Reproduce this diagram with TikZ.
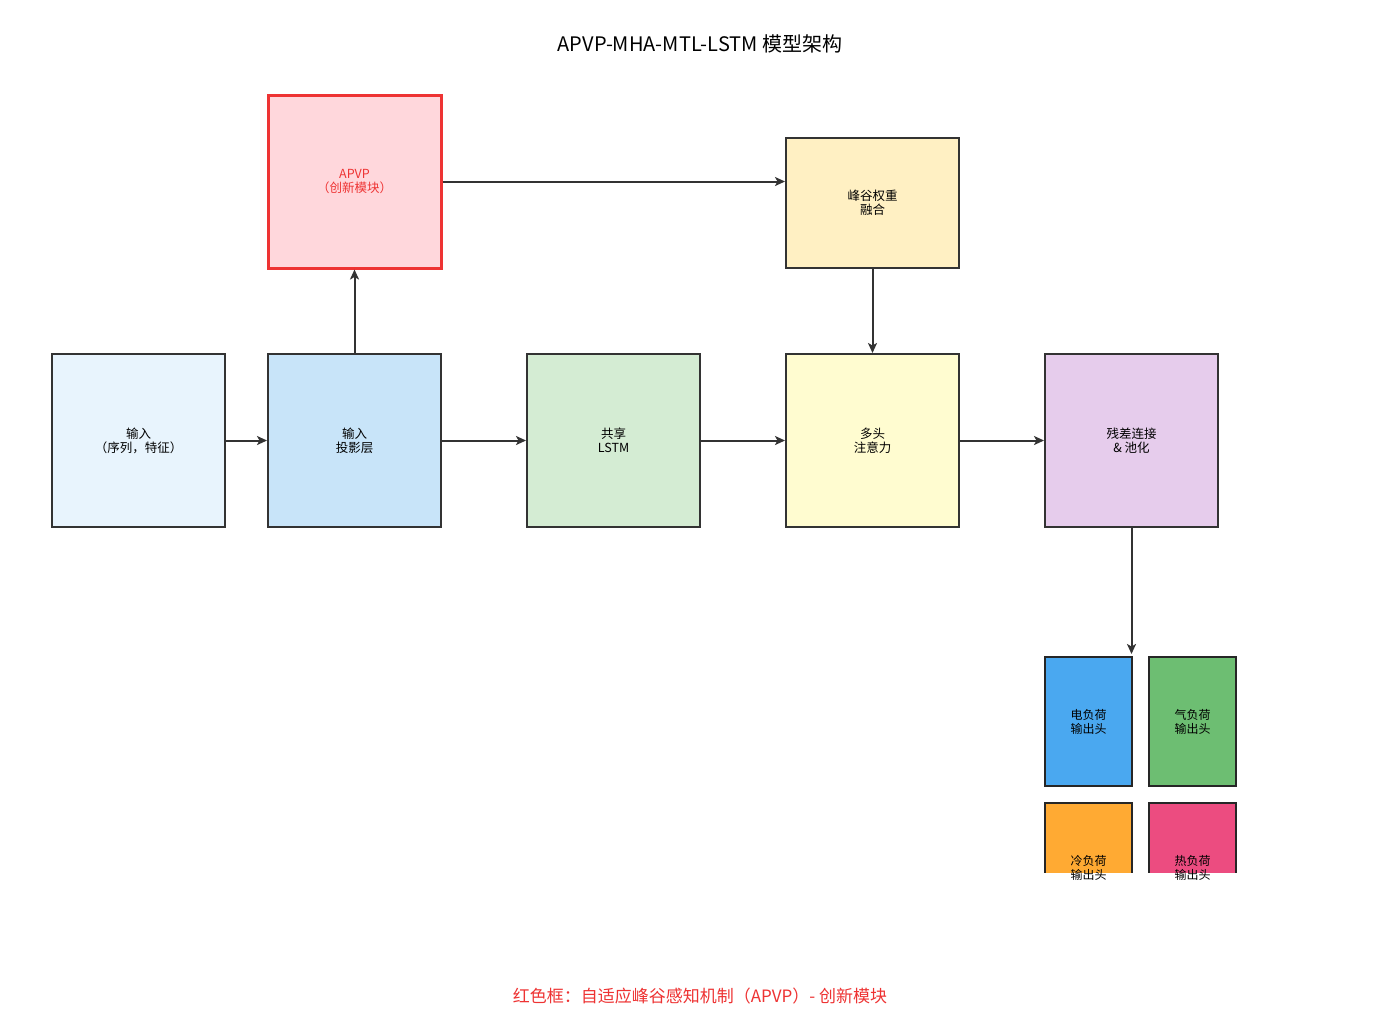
\documentclass[tikz,border=0pt]{standalone}
\usepackage{fontspec}
\setmainfont{Noto Sans CJK SC}
\usetikzlibrary{arrows.meta}
\definecolor{cin}{HTML}{E8F4FD}
\definecolor{cproj}{HTML}{C8E4F9}
\definecolor{clstm}{HTML}{D4ECD3}
\definecolor{cmha}{HTML}{FFFCD0}
\definecolor{cres}{HTML}{E6CCEC}
\definecolor{cfus}{HTML}{FFF0C3}
\definecolor{capvp}{HTML}{FFD7DC}
\definecolor{credb}{HTML}{EE3333}
\definecolor{celec}{HTML}{4AA8F0}
\definecolor{cgas}{HTML}{6DBE72}
\definecolor{ccold}{HTML}{FFAA33}
\definecolor{cheat}{HTML}{EC4C80}
\definecolor{cline}{HTML}{333333}
\tikzset{
  box/.style={draw=cline, line width=2pt, inner sep=0pt, align=center,
    minimum width=173pt, minimum height=173pt, font=\fontsize{12.5}{14}\selectfont},
  outbox/.style={draw=black!85, line width=2pt, inner sep=0pt, align=center,
    minimum width=87pt, minimum height=129pt, font=\fontsize{12}{14}\selectfont},
  outtxt/.style={inner sep=0pt, align=center, font=\fontsize{12}{14}\selectfont},
  conn/.style={draw=cline, line width=2pt, -{Stealth[length=10pt,width=9pt,inset=2.5pt]}}
}
\begin{document}
\begin{tikzpicture}[x=1pt,y=-1pt]
\useasboundingbox[fill=white] (0,0) rectangle (1400,1013);
\node[font=\fontsize{20}{24}\selectfont] (title) at (700,44) {APVP-MHA-MTL-LSTM 模型架构};
\node[box, fill=cin] (inp) at (138.5,440.5) {输入\\（序列，特征）};
\node[box, fill=cproj] (proj) at (354.5,440.5) {输入\\投影层};
\node[box, fill=clstm] (lstm) at (613.5,440.5) {共享\\LSTM};
\node[box, fill=cmha] (mha) at (872.5,440.5) {多头\\注意力};
\node[box, fill=cres] (res) at (1131.5,440.5) {残差连接\\\& 池化};
\node[box, fill=capvp, draw=credb, line width=3pt, text=credb] (apvp) at (354.5,181.5) {APVP\\（创新模块）};
\node[box, fill=cfus, minimum height=130pt] (fus) at (872.5,203) {峰谷权重\\融合};
\node[outbox, fill=celec] (elec) at (1088.5,721.5) {电负荷\\输出头};
\node[outbox, fill=cgas] (gas) at (1192.5,721.5) {气负荷\\输出头};
\begin{scope}
\clip (0,0) rectangle (1400,872);
\node[outbox, fill=ccold] (cold) at (1088.5,867.5) {};
\node[outbox, fill=cheat] (heat) at (1192.5,867.5) {};
\end{scope}
\node[outtxt] (coldtxt) at (cold.center) {冷负荷\\输出头};
\node[outtxt] (heattxt) at (heat.center) {热负荷\\输出头};
\draw[conn] (inp.east) -- (proj.west);
\draw[conn] (proj.east) -- (lstm.west);
\draw[conn] (lstm.east) -- (mha.west);
\draw[conn] (mha.east) -- (res.west);
\draw[conn] (proj.north) -- (apvp.south);
\draw[conn] (apvp.east) -- (fus.west |- apvp.east);
\draw[conn] (fus.south) -- (mha.north);
\draw[conn] (res.south) -- ([yshift=2pt]res.south |- elec.north);
\node[text=credb, font=\fontsize{17}{20}\selectfont] (note) at (700,996) {红色框：自适应峰谷感知机制（APVP）- 创新模块};
\end{tikzpicture}
\end{document}
